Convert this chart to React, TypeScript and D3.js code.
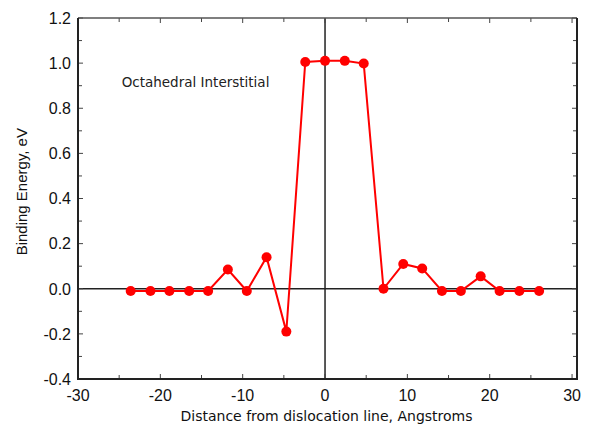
import React, { useEffect, useRef } from "react";
import * as d3 from "d3";

// distance from dislocation line (Angstroms) and binding energy (eV)
const distances = [
  -23.6, -21.2, -18.9, -16.5, -14.2, -11.8, -9.5, -7.1, -4.7, -2.4, 0, 2.4,
  4.7, 7.1, 9.5, 11.8, 14.2, 16.5, 18.9, 21.2, 23.6, 26.0,
];
const energies = [
  -0.01, -0.01, -0.01, -0.01, -0.01, 0.085, -0.01, 0.14, -0.19, 1.005, 1.01,
  1.01, 0.998, 0.0, 0.11, 0.09, -0.01, -0.01, 0.055, -0.01, -0.01, -0.01,
];
const xTickLabels = [-30, -20, -10, 0, 10, 20, 30];
const yTickLabels = [-0.4, -0.2, 0.0, 0.2, 0.4, 0.6, 0.8, 1.0, 1.2];

const App = () => {
  const ref = useRef<SVGSVGElement>(null);

  useEffect(() => {
    const width = 589;
    const height = 426;
    const margin = { top: 18, right: 12, bottom: 47, left: 78 };
    const innerW = width - margin.left - margin.right;
    const innerH = height - margin.top - margin.bottom;

    const root = d3.select(ref.current);
    root.selectAll("*").remove();

    const svg = root
      .append("g")
      .attr("transform", `translate(${margin.left},${margin.top})`);

    const x = d3.scaleLinear().domain([-30, 30.6]).range([0, innerW]);
    const y = d3.scaleLinear().domain([-0.4, 1.2]).range([innerH, 0]);

    const xMinor = d3.range(-30, 31, 5);
    const yMinor = d3.range(-4, 13, 1).map((d) => d / 10);
    const tickColor = "#444";

    // zero lines
    svg
      .append("line")
      .attr("x1", 0)
      .attr("x2", innerW)
      .attr("y1", y(0))
      .attr("y2", y(0))
      .attr("stroke", "#222")
      .attr("stroke-width", 1.5);
    svg
      .append("line")
      .attr("x1", x(0))
      .attr("x2", x(0))
      .attr("y1", 0)
      .attr("y2", innerH)
      .attr("stroke", "#222")
      .attr("stroke-width", 1.5);

    // inward ticks on all four sides
    xMinor.forEach((v) => {
      const len = v % 10 === 0 ? 5 : 4;
      svg.append("line").attr("x1", x(v)).attr("x2", x(v))
        .attr("y1", innerH).attr("y2", innerH - len)
        .attr("stroke", tickColor).attr("stroke-width", 1);
      svg.append("line").attr("x1", x(v)).attr("x2", x(v))
        .attr("y1", 0).attr("y2", len)
        .attr("stroke", tickColor).attr("stroke-width", 1);
    });
    yMinor.forEach((v) => {
      const major = Math.round(v * 10) % 2 === 0;
      const len = major ? 5 : 4;
      svg.append("line").attr("x1", 0).attr("x2", len)
        .attr("y1", y(v)).attr("y2", y(v))
        .attr("stroke", tickColor).attr("stroke-width", 1);
      svg.append("line").attr("x1", innerW).attr("x2", innerW - len)
        .attr("y1", y(v)).attr("y2", y(v))
        .attr("stroke", tickColor).attr("stroke-width", 1);
    });

    // frame
    svg
      .append("line")
      .attr("x1", 0).attr("x2", innerW).attr("y1", 0).attr("y2", 0)
      .attr("stroke", "#555").attr("stroke-width", 1.5);
    svg
      .append("path")
      .attr("d", `M0,0V${innerH}H${innerW}V0`)
      .attr("fill", "none")
      .attr("stroke", "#222")
      .attr("stroke-width", 2);

    // tick labels
    svg
      .selectAll(".xlab")
      .data(xTickLabels)
      .enter()
      .append("text")
      .attr("x", (d) => x(d))
      .attr("y", innerH + 22)
      .attr("text-anchor", "middle")
      .style("font-family", "'Liberation Sans', Arial, sans-serif")
      .style("font-size", "16px")
      .attr("fill", "#111")
      .text((d) => String(d));

    svg
      .selectAll(".ylab")
      .data(yTickLabels)
      .enter()
      .append("text")
      .attr("x", -7)
      .attr("y", (d) => y(d))
      .attr("dy", "0.36em")
      .attr("text-anchor", "end")
      .style("font-family", "'Liberation Sans', Arial, sans-serif")
      .style("font-size", "16px")
      .attr("fill", "#111")
      .text((d) => d.toFixed(1));

    // axis titles
    svg
      .append("text")
      .attr("x", innerW / 2 - 1)
      .attr("y", innerH + 42)
      .attr("text-anchor", "middle")
      .style("font-family", "'DejaVu Sans', Verdana, sans-serif")
      .style("font-size", "14px")
      .attr("fill", "#111")
      .text("Distance from dislocation line, Angstroms");

    svg
      .append("text")
      .attr("transform", "rotate(-90)")
      .attr("x", -(191.7 - margin.top))
      .attr("y", -margin.left + 27)
      .attr("text-anchor", "middle")
      .style("font-family", "'Liberation Sans', Arial, sans-serif")
      .style("font-size", "15px")
      .attr("fill", "#111")
      .text("Binding Energy, eV");

    svg
      .append("text")
      .attr("x", x(-24.7))
      .attr("y", y(0.895))
      .style("font-family", "'DejaVu Sans', Verdana, sans-serif")
      .style("font-size", "13.5px")
      .attr("fill", "#222")
      .text("Octahedral Interstitial");

    // series
    const pts = distances.map((d, i) => [d, energies[i]] as [number, number]);
    const line = d3
      .line<[number, number]>()
      .x((d) => x(d[0]))
      .y((d) => y(d[1]));

    svg
      .append("path")
      .datum(pts)
      .attr("fill", "none")
      .attr("stroke", "#ff0000")
      .attr("stroke-width", 2)
      .attr("d", line);

    svg
      .selectAll(".pt")
      .data(pts)
      .enter()
      .append("circle")
      .attr("cx", (d) => x(d[0]))
      .attr("cy", (d) => y(d[1]))
      .attr("r", 5)
      .attr("fill", "#ff0000");
  }, []);

  return (
    <svg
      ref={ref}
      width={589}
      height={426}
      style={{ position: "absolute", left: 0, top: 0, background: "#fff" }}
    />
  );
};

export default App;
